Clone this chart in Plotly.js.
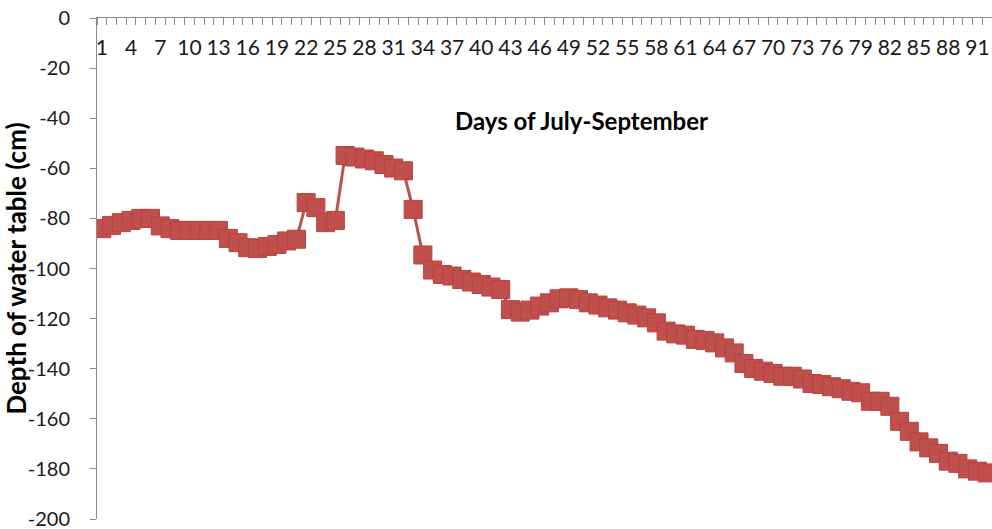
<!DOCTYPE html>
<html>
<head>
<meta charset="utf-8">
<script src="https://cdn.plot.ly/plotly-3.0.1.min.js"></script>
<style>html,body{margin:0;padding:0;background:#fff}#chart{width:992px;height:529px}</style>
</head>
<body>
<div id="chart"></div>
<script>
const days = Array.from({length: 92}, (_, i) => i + 1);
const depth = [
  -84.1, -82.8, -81.7, -80.8, -80.0, -80.0, -83.0, -84.1, -84.8, -84.8,
  -84.8, -84.8, -84.8, -88.0, -89.7, -91.7, -92.0, -91.2, -90.4, -89.0,
  -88.3, -73.7, -75.7, -81.7, -80.8, -54.9, -55.5, -56.3, -57.0, -58.5,
  -59.9, -61.0, -76.4, -94.6, -100.6, -102.4, -103.0, -104.4, -105.4, -106.4,
  -107.4, -108.4, -116.4, -117.4, -116.6, -115.0, -113.7, -112.1, -111.7, -112.4,
  -113.7, -114.6, -115.7, -116.6, -117.7, -118.6, -119.7, -121.7, -125.0, -126.1,
  -126.6, -128.3, -128.7, -129.7, -131.7, -133.7, -137.9, -139.9, -141.0, -141.9,
  -143.0, -143.0, -144.1, -145.9, -146.3, -147.2, -148.0, -149.0, -149.6, -153.0,
  -153.0, -155.0, -161.0, -165.0, -169.2, -171.6, -173.8, -176.9, -177.8, -180.0,
  -180.9, -181.6
];
const xTickVals = [1,4,7,10,13,16,19,22,25,28,31,34,37,40,43,46,49,52,55,58,61,64,67,70,73,76,79,82,85,88,91];
const xTickText = xTickVals.map(String);
const yTickVals = [0,-20,-40,-60,-80,-100,-120,-140,-160,-180,-200];
const yTickText = ['0','-20','-40','-60','-80','-100','-120','-140','-160','-180','-200'];

const red = '#C0504D';
const fontFam = 'Lato, "Open Sans", sans-serif';

Plotly.newPlot('chart', [{
  x: days,
  y: depth,
  type: 'scatter',
  mode: 'lines+markers',
  line: {color: red, width: 3},
  marker: {symbol: 'square', size: 18, color: red, line: {color: '#B9413E', width: 1}},
  hoverinfo: 'x+y'
}], {
  width: 992, height: 529,
  margin: {l: 97, r: 0, t: 18, b: 10},
  paper_bgcolor: '#fff', plot_bgcolor: '#fff',
  showlegend: false,
  font: {family: fontFam, size: 20, color: '#1a1a1a'},
  xaxis: {
    side: 'top',
    range: [0.5, 92.5],
    tickmode: 'array', tickvals: xTickVals, ticktext: xTickText,
    ticks: '', ticklabelposition: 'inside', ticklabelstandoff: 24,
    ticklabeloverflow: 'allow',
    tickfont: {family: fontFam, size: 21, color: '#1a1a1a'},
    showline: true, linecolor: '#8c8c8c', linewidth: 1,
    showgrid: false, zeroline: false,
    minor: {ticks: 'inside', tick0: 0.5, dtick: 1, ticklen: 7, tickcolor: '#8c8c8c', tickwidth: 1, showgrid: false}
  },
  yaxis: {
    range: [-200, 0],
    tickmode: 'array', tickvals: yTickVals, ticktext: yTickText,
    ticks: 'outside', ticklen: 6, tickcolor: '#8c8c8c',
    ticklabelstandoff: 16, ticklabeloverflow: 'allow',
    tickfont: {family: fontFam, size: 20, color: '#1a1a1a'},
    showline: true, linecolor: '#8c8c8c', linewidth: 1,
    showgrid: false, zeroline: false,
    title: {text: '<b>Depth of water table (cm)</b>', font: {family: fontFam, size: 26, color: '#000'}, standoff: 8}
  },
  annotations: [{
    text: '<b>Days of July-September</b>',
    xref: 'paper', yref: 'paper', x: 0.541, y: 0.795,
    xanchor: 'center', yanchor: 'middle', showarrow: false,
    font: {family: fontFam, size: 24, color: '#000'}
  }]
}, {displayModeBar: false, staticPlot: true});
</script>
</body>
</html>
